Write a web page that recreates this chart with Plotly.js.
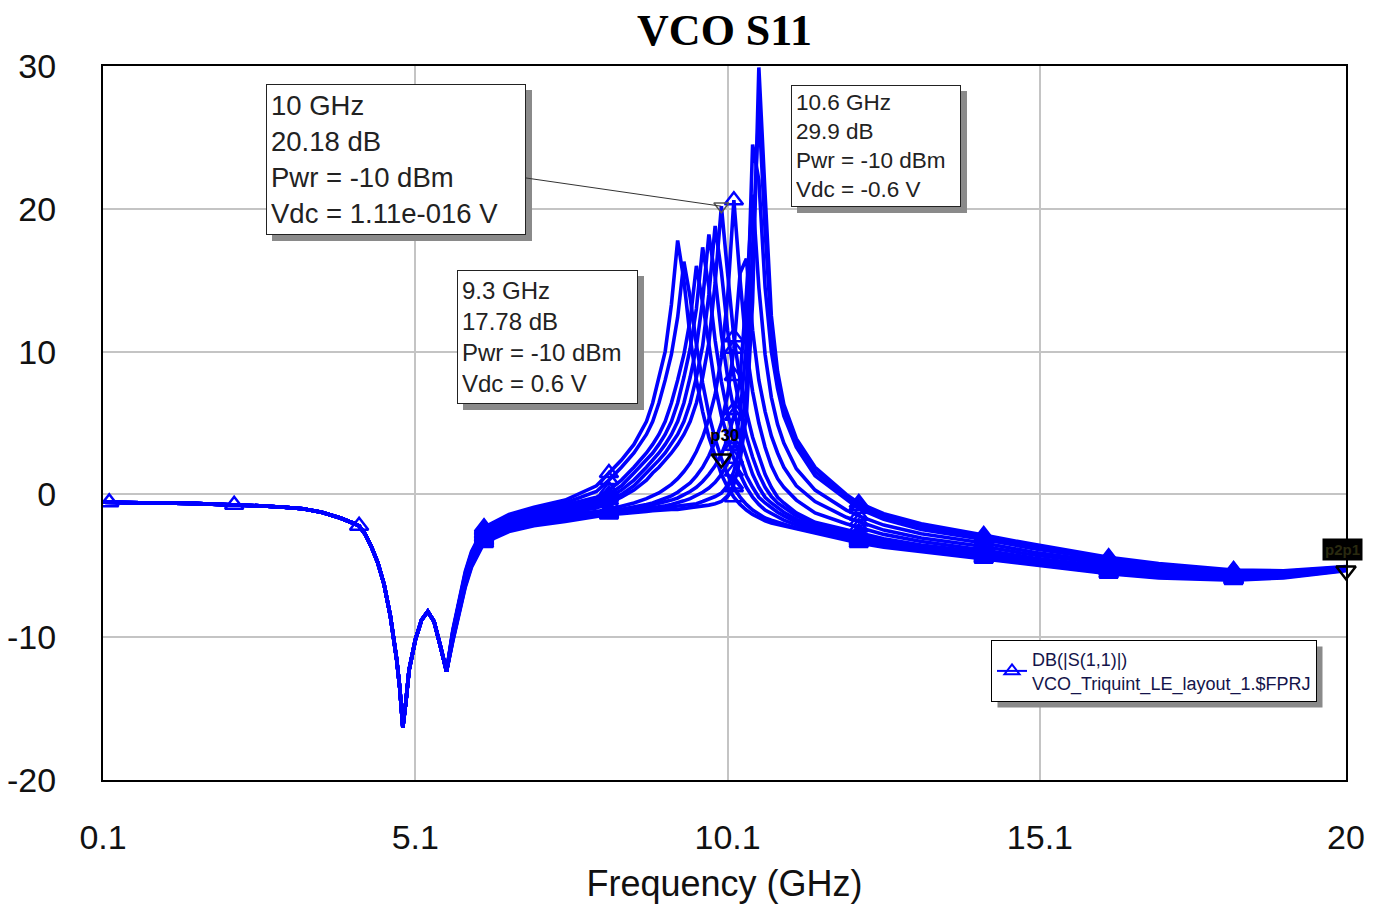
<!DOCTYPE html>
<html>
<head>
<meta charset="utf-8">
<script src="https://cdn.plot.ly/plotly-3.0.1.min.js"></script>
<style>html,body{margin:0;padding:0;background:#fff;}#chart{width:1384px;height:909px;}</style>
</head>
<body>
<div id="chart"></div>
<script>
// ---- data ----
// shared low-frequency part (all Vdc curves coincide here)
const lowFreq = [0.1, 0.2, 0.6, 1.0, 1.5, 2.0, 2.2, 2.6, 3.0, 3.3, 3.6, 3.9, 4.1, 4.2, 4.3, 4.4, 4.5, 4.6, 4.7, 4.8, 4.85, 4.9, 4.95, 5.0, 5.1, 5.2, 5.3, 5.4, 5.5, 5.6];
const lowDb   = [-0.55, -0.55, -0.57, -0.6, -0.63, -0.68, -0.72, -0.8, -0.9, -1.0, -1.25, -1.65, -2.0, -2.2, -2.8, -3.7, -4.8, -6.3, -8.5, -11.5, -13.5, -16.3, -14.5, -12.3, -10.2, -8.8, -8.2, -8.9, -10.6, -12.4];

// per-Vdc part (GHz)
const freqHi = [5.7, 5.8, 5.9, 6.0, 6.2, 6.6, 7.0, 7.5, 8.0, 8.2, 8.4, 8.6, 8.8, 8.9, 9.0, 9.1, 9.2, 9.3, 9.4, 9.5, 9.6, 9.7, 9.8, 9.9, 10.0, 10.1, 10.2, 10.3, 10.4, 10.5, 10.6, 10.7, 10.8, 10.9, 11.0, 11.2, 11.5, 12.0, 12.2, 12.6, 13.2, 14.2, 15.0, 16.2, 17.0, 18.2, 19.0, 20.0];

const s11_vp06 = [-9.5, -7.3, -5.4, -4.0, -2.3, -1.4, -0.9, -0.4, 0.6, 1.5, 2.4, 3.5, 5.1, 6.4, 8.2, 10.0, 13.3, 17.78, 15.0, 11.0, 8.0, 5.8, 4.0, 2.6, 1.4, 0.5, -0.2, -0.7, -1.1, -1.4, -1.65, -1.85, -2.0, -2.1, -2.2, -2.45, -2.75, -3.2, -3.4, -3.7, -4.0, -4.5, -4.95, -5.55, -5.85, -6.0, -5.85, -5.35];
const s11_vp05 = [-9.6, -7.4, -5.5, -4.1, -2.4, -1.5, -1.0, -0.6, 0.2, 1.0, 1.9, 2.9, 4.2, 5.1, 6.4, 8.0, 9.8, 12.4, 16.3, 13.8, 10.5, 7.8, 5.6, 3.9, 2.5, 1.4, 0.5, -0.2, -0.7, -1.1, -1.4, -1.65, -1.8, -1.95, -2.05, -2.35, -2.65, -3.1, -3.3, -3.6, -3.95, -4.45, -4.9, -5.5, -5.8, -5.95, -5.8, -5.3];
const s11_vp04 = [-9.6, -7.5, -5.6, -4.2, -2.5, -1.6, -1.1, -0.75, -0.2, 0.3, 1.0, 1.9, 2.9, 3.5, 4.2, 5.1, 6.4, 8.0, 9.8, 12.2, 16.0, 13.4, 10.3, 7.6, 5.5, 3.9, 2.5, 1.4, 0.5, -0.2, -0.7, -1.1, -1.35, -1.6, -1.8, -2.15, -2.5, -3.0, -3.2, -3.5, -3.9, -4.4, -4.85, -5.4, -5.75, -5.9, -5.75, -5.25];
const s11_vp03 = [-9.7, -7.6, -5.7, -4.3, -2.6, -1.7, -1.2, -0.9, -0.4, 0.0, 0.6, 1.5, 2.4, 2.9, 3.5, 4.2, 5.1, 6.4, 8.2, 10.2, 13.0, 17.3, 14.5, 10.8, 7.9, 5.7, 3.9, 2.5, 1.3, 0.5, -0.2, -0.6, -0.95, -1.25, -1.5, -1.95, -2.35, -2.9, -3.1, -3.45, -3.85, -4.3, -4.8, -5.35, -5.7, -5.9, -5.75, -5.25];
const s11_vp02 = [-9.8, -7.6, -5.8, -4.4, -2.7, -1.8, -1.35, -1.05, -0.6, -0.2, 0.3, 1.0, 1.9, 2.4, 2.9, 3.5, 4.2, 5.1, 6.4, 8.2, 10.3, 13.6, 18.2, 15.2, 11.2, 8.2, 5.9, 4.0, 2.6, 1.4, 0.5, -0.2, -0.6, -0.95, -1.25, -1.75, -2.25, -2.75, -2.95, -3.35, -3.75, -4.25, -4.75, -5.3, -5.65, -5.85, -5.7, -5.2];
const s11_vp01 = [-9.8, -7.7, -5.9, -4.5, -2.8, -1.9, -1.45, -1.15, -0.8, -0.4, 0.0, 0.6, 1.5, 1.9, 2.4, 2.9, 3.5, 4.2, 5.1, 6.4, 8.2, 10.4, 14.0, 18.8, 15.6, 11.5, 8.3, 6.0, 4.1, 2.6, 1.4, 0.5, -0.15, -0.6, -0.9, -1.5, -2.1, -2.6, -2.8, -3.25, -3.7, -4.15, -4.7, -5.25, -5.6, -5.8, -5.65, -5.2];
const s11_v000 = [-9.9, -7.8, -6.0, -4.6, -2.9, -2.0, -1.55, -1.3, -0.95, -0.6, -0.2, 0.3, 1.0, 1.5, 1.9, 2.4, 2.9, 3.5, 4.2, 5.1, 6.4, 8.2, 10.6, 14.8, 20.18, 15.5, 11.0, 8.0, 5.8, 4.0, 2.6, 1.4, 0.5, -0.2, -0.6, -1.3, -1.95, -2.45, -2.65, -3.1, -3.55, -4.05, -4.6, -5.15, -5.55, -5.75, -5.6, -5.2];
const s11_vn01 = [-10.0, -7.9, -6.0, -4.6, -3.0, -2.1, -1.65, -1.4, -1.2, -1.05, -0.85, -0.6, -0.3, -0.1, 0.1, 0.4, 0.7, 1.1, 1.6, 2.2, 3.0, 4.0, 5.3, 7.0, 9.6, 13.8, 20.6, 15.0, 10.2, 7.2, 5.0, 3.3, 2.0, 1.1, 0.5, -0.4, -1.3, -2.05, -2.3, -2.8, -3.3, -3.9, -4.45, -5.05, -5.45, -5.7, -5.55, -5.15];
const s11_vn02 = [-10.0, -8.0, -6.1, -4.7, -3.0, -2.2, -1.75, -1.5, -1.3, -1.2, -1.05, -0.9, -0.7, -0.6, -0.45, -0.3, -0.1, 0.15, 0.45, 0.8, 1.3, 1.9, 2.7, 3.7, 5.0, 7.0, 10.2, 15.5, 16.5, 11.5, 8.0, 5.8, 4.1, 2.9, 1.9, 0.6, -0.5, -1.6, -1.9, -2.5, -3.05, -3.65, -4.25, -4.9, -5.3, -5.6, -5.5, -5.15];
const s11_vn03 = [-10.1, -8.1, -6.2, -4.8, -3.1, -2.3, -1.85, -1.6, -1.35, -1.25, -1.15, -1.0, -0.85, -0.75, -0.65, -0.55, -0.4, -0.25, -0.05, 0.2, 0.5, 0.9, 1.4, 2.0, 2.8, 3.9, 5.5, 8.2, 14.0, 21.0, 14.5, 9.8, 6.8, 4.9, 3.6, 1.8, 0.3, -1.1, -1.5, -2.15, -2.75, -3.4, -4.05, -4.75, -5.2, -5.5, -5.45, -5.1];
const s11_vn04 = [-10.2, -8.1, -6.3, -4.9, -3.2, -2.4, -1.95, -1.7, -1.4, -1.3, -1.2, -1.1, -1.0, -0.95, -0.9, -0.8, -0.7, -0.6, -0.45, -0.3, -0.1, 0.15, 0.45, 0.85, 1.4, 2.2, 3.4, 5.6, 10.5, 24.5, 22.0, 14.5, 10.0, 7.4, 5.5, 3.3, 1.3, -0.4, -1.0, -1.75, -2.45, -3.15, -3.8, -4.6, -5.05, -5.4, -5.4, -5.1];
const s11_vn05 = [-10.2, -8.2, -6.4, -5.0, -3.3, -2.5, -2.1, -1.8, -1.45, -1.35, -1.3, -1.2, -1.1, -1.05, -1.0, -0.95, -0.85, -0.8, -0.8, -0.75, -0.65, -0.5, -0.35, -0.15, 0.1, 0.6, 1.6, 3.5, 7.5, 18.0, 27.0, 18.5, 11.5, 8.0, 5.9, 3.6, 1.6, -0.2, -0.8, -1.55, -2.25, -3.0, -3.65, -4.5, -4.95, -5.35, -5.4, -5.1];
const s11_vn06 = [-10.3, -8.3, -6.5, -5.1, -3.4, -2.6, -2.2, -1.9, -1.5, -1.4, -1.35, -1.3, -1.2, -1.15, -1.1, -1.1, -1.05, -1.05, -1.0, -0.95, -0.9, -0.85, -0.75, -0.65, -0.5, -0.1, 0.7, 2.4, 5.5, 13.5, 29.9, 21.0, 12.5, 8.6, 6.3, 3.9, 1.9, 0.0, -0.6, -1.35, -2.05, -2.85, -3.5, -4.4, -4.85, -5.3, -5.35, -5.05];

const curves = [s11_vp06, s11_vp05, s11_vp04, s11_vp03, s11_vp02, s11_vp01, s11_v000, s11_vn01, s11_vn02, s11_vn03, s11_vn04, s11_vn05, s11_vn06];

// marker frequencies (triangles every 20 points)
const markerFreqLow = [0.2, 2.2, 4.2];
const markerFreqHi = [6.2, 8.2, 10.2, 12.2, 14.2, 16.2, 18.2];

// text
const xTickVals = [0.1, 5.1, 10.1, 15.1, 20];
const xTickText = ['0.1', '5.1', '10.1', '15.1', '20'];
const yTickVals = [-20, -10, 0, 10, 20, 30];
const yTickText = ['-20', '-10', '0', '10', '20', '30'];
const box1Text = '10 GHz<br>20.18 dB<br>Pwr = -10 dBm<br>Vdc = 1.11e-016 V';
const box2Text = '9.3 GHz<br>17.78 dB<br>Pwr = -10 dBm<br>Vdc = 0.6 V';
const box3Text = '10.6 GHz<br>29.9 dB<br>Pwr = -10 dBm<br>Vdc = -0.6 V';
const legendText = 'DB(|S(1,1)|)<br>VCO_Triquint_LE_layout_1.$FPRJ';

// ---- build ----
const BLUE = '#0000ff';
const FONT = 'Liberation Sans, Arial, sans-serif';
function hiAt(arr, f) { return arr[freqHi.indexOf(f)]; }
function lowAt(f) { return lowDb[lowFreq.indexOf(f)]; }

const traces = [];
curves.forEach(c => {
  traces.push({
    x: lowFreq.concat(freqHi), y: lowDb.concat(c),
    type: 'scatter', mode: 'lines',
    line: {color: BLUE, width: 3.6},
    showlegend: false, hoverinfo: 'skip'
  });
});

const mx = [], my = [];
markerFreqLow.forEach(f => { mx.push(f); my.push(lowAt(f)); });
curves.forEach(c => markerFreqHi.forEach(f => { mx.push(f); my.push(hiAt(c, f)); }));
traces.push({
  x: mx, y: my, type: 'scatter', mode: 'markers',
  marker: {symbol: 'triangle-up-open', size: 16, color: BLUE, line: {width: 2.5, color: BLUE}},
  showlegend: false, hoverinfo: 'skip'
});

// black marker symbols (p-markers)
const pX = [10.0, 20.0];
const pY = [hiAt(s11_vp05, 10.0), hiAt(s11_vp06, 20.0)];
traces.push({
  x: pX, y: pY, type: 'scatter', mode: 'markers',
  marker: {symbol: 'triangle-down-open', size: 17, color: '#000', line: {width: 2.5, color: '#000'}},
  showlegend: false, hoverinfo: 'skip', cliponaxis: false
});
// grey inverted triangle at the 10 GHz label point
traces.push({
  x: [10.0], y: [hiAt(s11_v000, 10.0)], type: 'scatter', mode: 'markers',
  marker: {symbol: 'triangle-down-open', size: 13, color: '#555', line: {width: 1.5, color: '#555'}},
  showlegend: false, hoverinfo: 'skip'
});

// legend entry
traces.push({
  x: [null], y: [null], type: 'scatter', mode: 'lines+markers',
  name: legendText,
  line: {color: BLUE, width: 2},
  marker: {symbol: 'triangle-up-open', size: 13, color: BLUE, line: {width: 2, color: BLUE}},
  showlegend: true
});

const pxW = 1243, pxH = 714, L = 103, T = 66;
function px2paperX(px) { return (px - L) / pxW; }
function px2paperY(py) { return 1 - (py - T) / pxH; }

const SH = '#8a8a8a';
const annotations = [
  // box 1 shadow + box (with leader line to the 10 GHz point)
  {x: 10.0, y: hiAt(s11_v000, 10.0), xref: 'x', yref: 'y', ax: -319, ay: -41,
   text: ' ', showarrow: true, arrowcolor: 'rgba(0,0,0,0)', arrowwidth: 0.1,
   bgcolor: SH, bordercolor: SH, borderwidth: 1, borderpad: 4, width: 250, height: 141,
   font: {family: FONT, size: 10, color: 'rgba(0,0,0,0)'}},
  {x: 10.0, y: hiAt(s11_v000, 10.0), xref: 'x', yref: 'y', ax: -325, ay: -47,
   text: box1Text, showarrow: true, arrowhead: 0, arrowcolor: '#333', arrowwidth: 1, standoff: 0,
   bgcolor: '#fff', bordercolor: '#222', borderwidth: 1, borderpad: 4, width: 250, height: 141,
   align: 'left', font: {family: FONT, size: 27.5, color: '#222'}},
  // box 2
  {x: px2paperX(457), y: px2paperY(270), xref: 'paper', yref: 'paper', xanchor: 'left', yanchor: 'top',
   xshift: 6, yshift: -6, text: ' ', showarrow: false,
   bgcolor: SH, bordercolor: SH, borderwidth: 1, borderpad: 4, width: 171, height: 124,
   font: {family: FONT, size: 10, color: 'rgba(0,0,0,0)'}},
  {x: px2paperX(457), y: px2paperY(270), xref: 'paper', yref: 'paper', xanchor: 'left', yanchor: 'top',
   text: box2Text, showarrow: false,
   bgcolor: '#fff', bordercolor: '#222', borderwidth: 1, borderpad: 4, width: 171, height: 124,
   align: 'left', font: {family: FONT, size: 24, color: '#222'}},
  // box 3
  {x: px2paperX(791), y: px2paperY(85), xref: 'paper', yref: 'paper', xanchor: 'left', yanchor: 'top',
   xshift: 6, yshift: -6, text: ' ', showarrow: false,
   bgcolor: SH, bordercolor: SH, borderwidth: 1, borderpad: 4, width: 160, height: 112,
   font: {family: FONT, size: 10, color: 'rgba(0,0,0,0)'}},
  {x: px2paperX(791), y: px2paperY(85), xref: 'paper', yref: 'paper', xanchor: 'left', yanchor: 'top',
   text: box3Text, showarrow: false,
   bgcolor: '#fff', bordercolor: '#222', borderwidth: 1, borderpad: 4, width: 160, height: 112,
   align: 'left', font: {family: FONT, size: 22.5, color: '#222'}},
  // p-marker labels
  {x: pX[0], y: pY[0], xref: 'x', yref: 'y', yshift: 23, xshift: 3, text: '<b>p30</b>', showarrow: false,
   font: {family: FONT, size: 17, color: '#000'}},
  {x: pX[1], y: pY[1], xref: 'x', yref: 'y', yshift: 21, xshift: -4, text: '<b>p2p1</b>', showarrow: false,
   bgcolor: '#000', borderpad: 2, font: {family: FONT, size: 15, color: '#2a2a10'}}
];

const layout = {
  width: 1384, height: 909,
  margin: {l: 103, r: 38, t: 66, b: 129},
  paper_bgcolor: '#fff', plot_bgcolor: '#fff',
  title: {text: '<b>VCO S11</b>', x: 0.5, xref: 'paper', y: 1 - 30 / 909, yref: 'container', yanchor: 'middle',
          font: {family: 'Liberation Serif, Times New Roman, serif', size: 44, color: '#000'}},
  xaxis: {
    range: [0.1, 20], tickvals: xTickVals, ticktext: xTickText,
    showgrid: true, gridcolor: '#c4c4c4', gridwidth: 2, zeroline: false,
    showline: true, mirror: true, linecolor: '#000', linewidth: 2,
    ticks: '', ticklabelstandoff: 26,
    tickfont: {family: FONT, size: 34, color: '#111'},
    title: {text: 'Frequency (GHz)', font: {family: FONT, size: 36, color: '#111'}, standoff: 16}
  },
  yaxis: {
    range: [-20, 30], tickvals: yTickVals, ticktext: yTickText,
    showgrid: true, gridcolor: '#c4c4c4', gridwidth: 2, zeroline: false,
    showline: true, mirror: true, linecolor: '#000', linewidth: 2,
    ticks: '', ticklabelstandoff: 38,
    tickfont: {family: FONT, size: 34, color: '#111'}
  },
  showlegend: true,
  legend: {x: px2paperX(991), y: px2paperY(640), xanchor: 'left', yanchor: 'top',
           bgcolor: '#fff', bordercolor: '#000', borderwidth: 1,
           font: {family: FONT, size: 18, color: '#14144a'}, itemwidth: 30, tracegroupgap: 0},
  shapes: [],
  annotations: annotations
};

Plotly.newPlot('chart', traces, layout, {displayModeBar: false, staticPlot: true}).then(gd => {
  // legend drop shadow sized from the drawn legend box
  const bg = gd.querySelector('.legend .bg');
  if (!bg) return;
  const r = bg.getBoundingClientRect();
  const g = gd.getBoundingClientRect();
  const x0 = r.left - g.left + 6, x1 = r.right - g.left + 6;
  const y0 = r.top - g.top + 6, y1 = r.bottom - g.top + 6;
  return Plotly.relayout(gd, {shapes: [{
    type: 'rect', xref: 'paper', yref: 'paper', layer: 'above',
    x0: px2paperX(x0), x1: px2paperX(x1), y0: px2paperY(y1), y1: px2paperY(y0),
    fillcolor: SH, line: {width: 0}
  }]});
});
</script>
</body>
</html>
